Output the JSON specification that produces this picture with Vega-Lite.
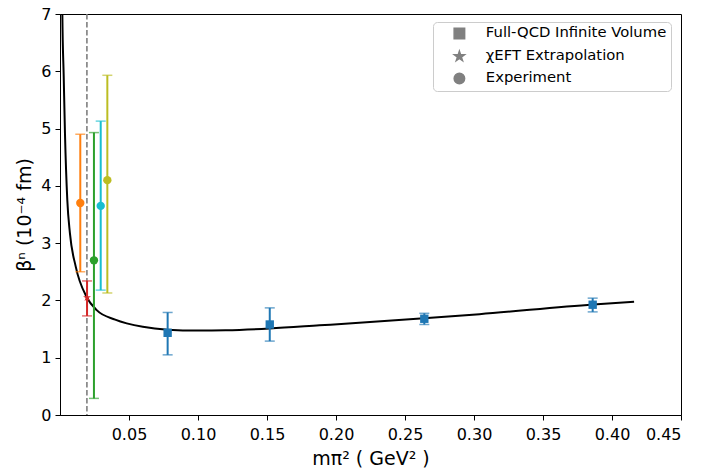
{
  "$schema": "https://vega.github.io/schema/vega-lite/v6.json",
  "width": 621,
  "height": 401,
  "autosize": "none",
  "padding": {"left": 60, "top": 14, "right": 21, "bottom": 59},
  "background": "white",
  "config": {
    "font": "DejaVu Sans",
    "view": {"stroke": "black", "strokeWidth": 1},
    "axis": {
      "grid": false,
      "domainColor": "black",
      "tickColor": "black",
      "labelColor": "black",
      "titleColor": "black",
      "tickSize": 5,
      "labelFontSize": 16,
      "titleFontSize": 19,
      "titleFontWeight": "normal",
      "labelFont": "DejaVu Sans",
      "titleFont": "DejaVu Sans"
    },
    "legend": {"symbolFillColor": "#808080", "symbolStrokeColor": "#808080"}
  },
  "datasets": {
    "curve": [
      {"x": 0.0014, "y": 8.2},
      {"x": 0.0017, "y": 7.0},
      {"x": 0.0027, "y": 5.9},
      {"x": 0.0036, "y": 4.92},
      {"x": 0.0053, "y": 3.75},
      {"x": 0.0072, "y": 3.17},
      {"x": 0.0114, "y": 2.59},
      {"x": 0.0193, "y": 2.06},
      {"x": 0.0266, "y": 1.83},
      {"x": 0.04, "y": 1.665},
      {"x": 0.06, "y": 1.54},
      {"x": 0.078, "y": 1.49},
      {"x": 0.1, "y": 1.475},
      {"x": 0.12, "y": 1.48},
      {"x": 0.152, "y": 1.51},
      {"x": 0.188, "y": 1.565},
      {"x": 0.2638, "y": 1.687},
      {"x": 0.304, "y": 1.76},
      {"x": 0.3865, "y": 1.93},
      {"x": 0.416, "y": 1.977}
    ],
    "pts": [
      {"x": 0.0147, "y": 3.7, "lo": 2.5, "hi": 4.9, "type": "Experiment", "c": "#ff7f0e"},
      {"x": 0.0196, "y": 2.05, "lo": 1.73, "hi": 2.34, "type": "χEFT Extrapolation", "c": "#d62728"},
      {"x": 0.0246, "y": 2.7, "lo": 0.29, "hi": 4.93, "type": "Experiment", "c": "#2ca02c"},
      {"x": 0.0295, "y": 3.65, "lo": 2.18, "hi": 5.13, "type": "Experiment", "c": "#17becf"},
      {"x": 0.0343, "y": 4.1, "lo": 2.13, "hi": 5.93, "type": "Experiment", "c": "#bcbd22"},
      {"x": 0.078, "y": 1.435, "lo": 1.05, "hi": 1.79, "type": "Full-QCD Infinite Volume", "c": "#1f77b4"},
      {"x": 0.152, "y": 1.58, "lo": 1.29, "hi": 1.87, "type": "Full-QCD Infinite Volume", "c": "#1f77b4"},
      {"x": 0.264, "y": 1.68, "lo": 1.58, "hi": 1.775, "type": "Full-QCD Infinite Volume", "c": "#1f77b4"},
      {"x": 0.386, "y": 1.925, "lo": 1.8, "hi": 2.04, "type": "Full-QCD Infinite Volume", "c": "#1f77b4"}
    ],
    "vline": [{"x": 0.0195}]
  },
  "layer": [
    {
      "data": {"name": "vline"},
      "mark": {"type": "rule", "color": "#7f7f7f", "strokeWidth": 1.6, "strokeDash": [5.5, 2.5]},
      "encoding": {
        "x": {"field": "x", "type": "quantitative", "scale": {"domain": [0, 0.45], "nice": false, "zero": false},
          "axis": {"values": [0.05, 0.1, 0.15, 0.2, 0.25, 0.3, 0.35, 0.4, 0.45], "format": ".2f", "title": "mπ² ( GeV² )", "titlePadding": 7, "labelPadding": 6}}
      }
    },
    {
      "data": {"name": "curve"},
      "mark": {"type": "line", "color": "black", "strokeWidth": 2, "interpolate": "monotone", "clip": true},
      "encoding": {
        "x": {"field": "x", "type": "quantitative"},
        "y": {"field": "y", "type": "quantitative", "scale": {"domain": [0, 7], "nice": false},
          "axis": {"values": [0, 1, 2, 3, 4, 5, 6, 7], "format": "d", "title": "βⁿ (10⁻⁴ fm)", "titlePadding": 6, "labelPadding": 4}}
      }
    },
    {
      "data": {"name": "pts"},
      "mark": {"type": "rule", "strokeWidth": 2},
      "encoding": {
        "x": {"field": "x", "type": "quantitative"},
        "y": {"field": "lo", "type": "quantitative"},
        "y2": {"field": "hi"},
        "color": {"field": "c", "type": "nominal", "scale": null, "legend": null}
      }
    },
    {
      "data": {"name": "pts"},
      "mark": {"type": "tick", "orient": "horizontal", "size": 10, "thickness": 1.5, "opacity": 0.65},
      "encoding": {
        "x": {"field": "x", "type": "quantitative"},
        "y": {"field": "lo", "type": "quantitative"},
        "color": {"field": "c", "type": "nominal", "scale": null, "legend": null}
      }
    },
    {
      "data": {"name": "pts"},
      "mark": {"type": "tick", "orient": "horizontal", "size": 10, "thickness": 1.5, "opacity": 0.65},
      "encoding": {
        "x": {"field": "x", "type": "quantitative"},
        "y": {"field": "hi", "type": "quantitative"},
        "color": {"field": "c", "type": "nominal", "scale": null, "legend": null}
      }
    },
    {
      "data": {"name": "pts"},
      "mark": {"type": "point", "filled": true, "opacity": 1, "size": 70},
      "encoding": {
        "x": {"field": "x", "type": "quantitative"},
        "y": {"field": "y", "type": "quantitative"},
        "color": {"field": "c", "type": "nominal", "scale": null, "legend": null},
        "shape": {
          "field": "type", "type": "nominal",
          "scale": {
            "domain": ["Full-QCD Infinite Volume", "χEFT Extrapolation", "Experiment"],
            "range": ["square", "M0,-1L0.2245,-0.309L0.951,-0.309L0.363,0.118L0.588,0.809L0,0.382L-0.588,0.809L-0.363,0.118L-0.951,-0.309L-0.2245,-0.309Z", "circle"]
          },
          "legend": {
            "title": null,
            "orient": "none",
            "legendX": 373,
            "legendY": 8,
            "padding": 4,
            "strokeColor": "#cccccc",
            "fillColor": "white",
            "cornerRadius": 4,
            "labelFontSize": 14.8,
            "labelFont": "DejaVu Sans",
            "labelColor": "black",
            "labelOffset": 19,
            "labelLimit": 400,
            "symbolSize": 110,
            "rowPadding": 6,
            "symbolOffset": 15,
            "symbolFillColor": "#808080",
            "symbolStrokeColor": "#808080",
            "encode": {"symbols": {"update": {"fill": {"value": "#808080"}, "stroke": {"value": "#808080"}, "opacity": {"value": 1}}}}
          }
        }
      }
    }
  ]
}
